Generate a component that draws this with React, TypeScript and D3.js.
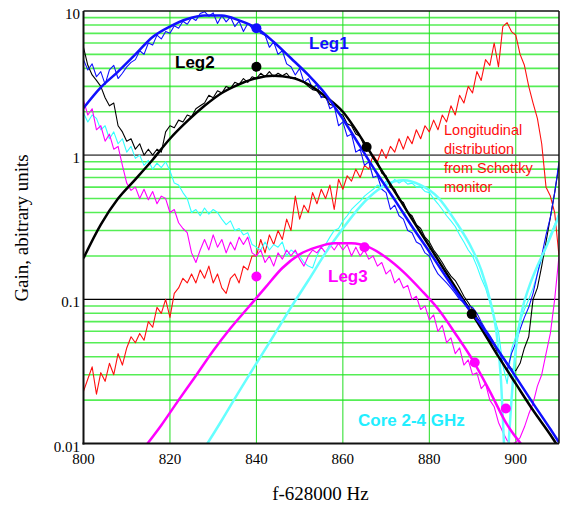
import React from "react";
import * as d3 from "d3";

const W = 561;
const H = 508;
const plot = { left: 83.5, right: 559, top: 11, bottom: 443.5 };

const xDomain: [number, number] = [800, 910];
const yDomain: [number, number] = [0.01, 10];
const xTicks = [800, 820, 840, 860, 880, 900];
const xTickLabels = ["800", "820", "840", "860", "880", "900"];
const yTicks = [0.01, 0.1, 1, 10];
const yTickLabels = ["0.01", "0.1", "1", "10"];
const minorDecades = [0.01, 0.1, 1];
const minorMultipliers = [2, 3, 4, 5, 6, 7, 8, 9];

// noisy measured series: sampled every 1 Hz starting at 800
const sampleStartHz = 800;
const sampleStepHz = 1;

const leg1Data = [
  4.6, 3.9, 4.3, 3.5, 3.8, 3.1, 3.9, 4.2, 3.4, 3.7,
  4.1, 4.4, 4.6, 5.3, 5.0, 6.0, 5.8, 6.8, 6.4, 7.2,
  7.0, 7.9, 7.6, 8.5, 8.1, 9.0, 8.6, 9.6, 9.9, 9.2,
  9.7, 8.2, 9.3, 8.4, 9.1, 7.8, 8.5, 7.2, 8.2, 7.6,
  7.8, 7.0, 6.8, 5.6, 6.1, 5.0, 5.3, 4.3, 4.1, 3.6,
  4.0, 3.2, 3.4, 2.9, 3.1, 2.5, 2.6, 2.1, 2.2, 1.6,
  1.7, 1.35, 1.4, 1.05, 1.1, 0.85, 0.9, 0.7, 0.72, 0.58,
  0.55, 0.42, 0.45, 0.38, 0.36, 0.3, 0.29, 0.25, 0.24, 0.21,
  0.2, 0.17, 0.15, 0.14, 0.13, 0.12, 0.11, 0.1, 0.095, 0.09,
  0.088, 0.08, 0.07, 0.062, 0.056, 0.05, 0.044, 0.036, 0.032, 0.042,
  0.05, 0.062, 0.075, 0.088, 0.11, 0.15, 0.2, 0.28, 0.37, 0.55,
  0.9,
];

const leg2Data = [
  5.6, 4.2, 3.6, 3.3, 3.0, 2.5, 2.2, 2.3, 1.6, 1.45,
  1.25, 1.3, 1.1, 1.2, 1.0, 1.1, 1.0, 1.1, 1.05, 1.45,
  1.6, 1.55, 1.75, 1.7, 1.9, 1.85, 2.1, 2.2, 2.3, 2.6,
  2.5, 2.8, 2.7, 3.0, 2.9, 3.2, 3.1, 3.4, 3.2, 3.5,
  3.4, 3.7, 3.5, 3.8, 3.5, 3.7, 3.55, 3.7, 3.4, 3.45,
  3.3, 3.2, 3.0, 2.85, 2.8, 2.55, 2.5, 2.25, 2.2, 1.95,
  1.9, 1.65, 1.6, 1.4, 1.35, 1.15, 1.1, 0.95, 0.9, 0.75,
  0.72, 0.6, 0.58, 0.49, 0.47, 0.4, 0.38, 0.33, 0.31, 0.27,
  0.25, 0.22, 0.2, 0.18, 0.16, 0.145, 0.135, 0.12, 0.105, 0.095,
  0.085, 0.075, 0.068, 0.06, 0.052, 0.048, 0.042, 0.04, 0.036, 0.033,
  0.032, 0.036, 0.046, 0.055, 0.1, 0.12, 0.17, 0.25, 0.37, 0.55,
  0.85,
];

const leg3Data = [
  2.4, 1.9, 2.1, 1.5, 1.6, 1.25, 1.4, 1.1, 1.15, 0.85,
  0.64, 0.57, 0.6, 0.5, 0.58, 0.49, 0.56, 0.46, 0.52, 0.5,
  0.4, 0.42, 0.34, 0.31, 0.29, 0.21, 0.18, 0.22, 0.26, 0.22,
  0.28, 0.23, 0.26, 0.21, 0.25, 0.22, 0.27, 0.24, 0.27, 0.21,
  0.2, 0.22, 0.18, 0.2, 0.17, 0.21, 0.19, 0.22, 0.2, 0.22,
  0.19, 0.17, 0.2, 0.22, 0.21, 0.23, 0.21, 0.24, 0.22, 0.245,
  0.22, 0.24, 0.2, 0.23, 0.2, 0.22, 0.19, 0.2, 0.17, 0.18,
  0.15, 0.16, 0.13, 0.14, 0.12, 0.125, 0.1, 0.105, 0.085, 0.09,
  0.072, 0.078, 0.06, 0.066, 0.05, 0.054, 0.042, 0.046, 0.035, 0.038,
  0.03, 0.031, 0.024, 0.026, 0.02, 0.018, 0.014, 0.012, 0.0105, 0.0098,
  0.0102, 0.011, 0.013, 0.016, 0.019, 0.025, 0.03, 0.042, 0.058, 0.1,
  0.2,
];

const coreData = [
  1.96, 1.7, 1.9, 1.8, 1.5, 1.6, 1.3, 1.45, 1.2, 1.3,
  1.05, 1.15, 0.95, 1.0, 0.85, 0.92, 0.8, 0.88, 0.82, 0.9,
  0.78, 0.64, 0.62, 0.55, 0.5, 0.4, 0.42, 0.38, 0.43, 0.39,
  0.42, 0.4, 0.36, 0.33, 0.35, 0.3, 0.31, 0.28, 0.29, 0.24,
  0.23, 0.22, 0.25, 0.22, 0.24, 0.23, 0.25, 0.2, 0.22, 0.21,
  0.2, 0.18, 0.17, 0.165, 0.2, 0.23, 0.24, 0.27, 0.3, 0.31,
  0.35, 0.38, 0.42, 0.45, 0.48, 0.52, 0.55, 0.58, 0.62, 0.6,
  0.66, 0.62, 0.68, 0.64, 0.67, 0.63, 0.64, 0.6, 0.6, 0.56,
  0.55, 0.5, 0.46, 0.42, 0.38, 0.35, 0.32, 0.28, 0.25, 0.22,
  0.2, 0.17, 0.14, 0.12, 0.095, 0.075, 0.06, 0.035, 0.026, 0.045,
  0.055, 0.07, 0.085, 0.1, 0.12, 0.15, 0.19, 0.23, 0.28, 0.33,
  0.4,
];

const schottkyData = [
  0.023, 0.028, 0.034, 0.022, 0.031, 0.027, 0.036, 0.03, 0.042, 0.035,
  0.046, 0.055, 0.05, 0.058, 0.052, 0.07, 0.064, 0.088, 0.08, 0.1,
  0.075, 0.11, 0.12, 0.14, 0.13, 0.15, 0.13, 0.16, 0.14, 0.17,
  0.13, 0.15, 0.12, 0.11, 0.14, 0.15, 0.13, 0.17, 0.16, 0.2,
  0.2, 0.26, 0.21, 0.28, 0.24, 0.3, 0.26, 0.36, 0.3, 0.52,
  0.36, 0.45, 0.4, 0.55, 0.46, 0.58, 0.5, 0.62, 0.42, 0.68,
  0.58, 0.72, 0.66, 0.8, 0.7, 0.85, 0.8, 1.0, 0.9, 1.1,
  0.95, 1.15, 1.05, 1.3, 1.1, 1.35, 1.2, 1.5, 1.3, 1.6,
  1.45, 1.75, 1.5, 1.9, 1.7, 2.2, 1.9, 2.6, 2.3, 3.0,
  2.7, 3.8, 3.3, 4.6, 4.2, 6.0, 4.1, 7.8, 8.3, 7.2,
  6.8, 5.0, 4.2, 3.0, 2.3, 1.8, 1.2, 0.6, 0.52, 0.4,
  0.2,
];

// smooth fitted curves: frequency / gain pairs
const leg1FitHz = [800, 804, 808, 812, 816, 820, 824, 828, 832, 836, 840, 844, 848, 852, 856, 860, 864, 868, 872, 876, 880, 884, 888, 892, 896, 900, 904, 908, 910];
const leg1FitGain = [2.12, 2.95, 3.8, 5.0, 6.6, 7.8, 8.8, 9.3, 9.3, 8.6, 7.6, 6.1, 4.7, 3.6, 2.65, 1.78, 1.15, 0.74, 0.49, 0.32, 0.214, 0.141, 0.095, 0.066, 0.044, 0.029, 0.019, 0.0126, 0.0102];

const leg2FitHz = [800, 804, 808, 812, 816, 820, 824, 828, 832, 836, 840, 844, 848, 852, 856, 860, 864, 868, 872, 876, 880, 884, 888, 892, 896, 900, 904, 908, 910];
const leg2FitGain = [0.193, 0.33, 0.5, 0.68, 0.93, 1.3, 1.72, 2.2, 2.7, 3.1, 3.42, 3.55, 3.45, 3.1, 2.55, 2.0, 1.35, 0.87, 0.56, 0.36, 0.234, 0.151, 0.098, 0.063, 0.04, 0.026, 0.017, 0.0115, 0.0093];

const leg3FitHz = [814, 818, 822, 826, 830, 834, 838, 842, 846, 850, 854, 858, 862, 866, 870, 874, 878, 882, 886, 890, 894, 898, 902];
const leg3FitGain = [0.0093, 0.0134, 0.02, 0.0295, 0.044, 0.063, 0.087, 0.12, 0.165, 0.205, 0.23, 0.245, 0.245, 0.23, 0.195, 0.155, 0.117, 0.086, 0.058, 0.038, 0.023, 0.0135, 0.0093];

const coreFitLeftHz = [828, 832, 836, 840, 844, 848, 852, 856, 860, 864, 868, 872, 874, 878, 882, 886, 890, 892, 894, 895.5, 896.5, 897.3];
const coreFitLeftGain = [0.0093, 0.0145, 0.023, 0.036, 0.056, 0.088, 0.135, 0.21, 0.31, 0.44, 0.57, 0.66, 0.67, 0.62, 0.51, 0.35, 0.22, 0.16, 0.1, 0.06, 0.03, 0.0095];
const coreFitRightHz = [898.3, 899, 900, 901.5, 903, 905, 907, 909, 910];
const coreFitRightGain = [0.0095, 0.02, 0.045, 0.085, 0.12, 0.17, 0.23, 0.32, 0.38];

// markers
const leg1DotHz = [840];
const leg1DotGain = [7.6];
const leg2DotHz = [840, 865.5, 889.8];
const leg2DotGain = [4.1, 1.14, 0.079];
const leg3DotHz = [840, 865, 890.5, 897.7];
const leg3DotGain = [0.144, 0.23, 0.0365, 0.0175];

const schottkyLines = ["Longitudinal", "distribution", "from Schottky", "monitor"];

const SERIF = "'Liberation Serif', 'Times New Roman', serif";
const SANS = "'Liberation Sans', Arial, sans-serif";

export default function App() {
  const x = d3.scaleLinear().domain(xDomain).range([plot.left, plot.right]);
  const y = d3.scaleLog().domain(yDomain).range([plot.bottom, plot.top]);

  const noisy = (vals: number[]) =>
    d3
      .line<number>()
      .x((_, i) => x(sampleStartHz + i * sampleStepHz))
      .y((v) => y(v))(vals) || "";

  const smooth = (xs: number[], vs: number[]) =>
    d3
      .line<number>()
      .x((_, i) => x(xs[i]))
      .y((v) => y(v))
      .curve(d3.curveMonotoneX)(vs) || "";

  const minorVals: number[] = [];
  minorDecades.forEach((d) => minorMultipliers.forEach((m) => minorVals.push(d * m)));

  const blue = "#1010ff";
  const cyan = "#33ffff";
  const cyanFit = "#66ffff";
  const magenta = "#ff00ff";
  const red = "#ff1010";

  return (
    <svg width={W} height={H} style={{ display: "block", position: "absolute", left: 0, top: 0, background: "#fff" }}>
      <defs>
        <clipPath id="plotClip">
          <rect x={plot.left} y={plot.top} width={plot.right - plot.left} height={plot.bottom - plot.top} />
        </clipPath>
      </defs>
      <rect x={0} y={0} width={W} height={H} fill="#fff" />

      {/* grid */}
      {minorVals.map((v) => (
        <line key={"h" + v} x1={plot.left} x2={plot.right} y1={y(v)} y2={y(v)} stroke="#55ee55" strokeWidth={1.6} />
      ))}
      {xTicks.slice(1).map((t) => (
        <line key={"v" + t} x1={x(t)} x2={x(t)} y1={plot.top} y2={plot.bottom} stroke="#22dd22" strokeWidth={1} />
      ))}
      <line x1={plot.left} x2={plot.right} y1={y(1)} y2={y(1)} stroke="#666" strokeWidth={1.8} />
      <line x1={plot.left} x2={plot.right} y1={y(0.1)} y2={y(0.1)} stroke="#000" strokeWidth={1.2} />

      {/* data */}
      <g clipPath="url(#plotClip)" fill="none" strokeLinejoin="round">
        <path d={noisy(schottkyData)} stroke={red} strokeWidth={1.1} />
        <path d={noisy(coreData)} stroke={cyan} strokeWidth={1.1} />
        <path d={noisy(leg3Data)} stroke={magenta} strokeWidth={1.1} />
        <path d={noisy(leg2Data)} stroke="#000" strokeWidth={1.1} />
        <path d={noisy(leg1Data)} stroke={blue} strokeWidth={1.1} />
        <path d={smooth(coreFitLeftHz, coreFitLeftGain)} stroke={cyanFit} strokeWidth={2.5} />
        <path d={smooth(coreFitRightHz, coreFitRightGain)} stroke={cyanFit} strokeWidth={2.5} />
        <path d={smooth(leg3FitHz, leg3FitGain)} stroke={magenta} strokeWidth={2.5} />
        <path d={smooth(leg2FitHz, leg2FitGain)} stroke="#000" strokeWidth={2.5} />
        <path d={smooth(leg1FitHz, leg1FitGain)} stroke={blue} strokeWidth={2.5} />
        {leg1DotHz.map((h, i) => (
          <circle key={"b" + i} cx={x(h)} cy={y(leg1DotGain[i])} r={5} fill={blue} />
        ))}
        {leg2DotHz.map((h, i) => (
          <circle key={"k" + i} cx={x(h)} cy={y(leg2DotGain[i])} r={5} fill="#000" />
        ))}
        {leg3DotHz.map((h, i) => (
          <circle key={"m" + i} cx={x(h)} cy={y(leg3DotGain[i])} r={5} fill={magenta} />
        ))}
      </g>

      {/* frame */}
      <line x1={plot.left} x2={plot.right} y1={plot.top} y2={plot.top} stroke="#111" strokeWidth={1.5} />
      <line x1={plot.right} x2={plot.right} y1={plot.top} y2={plot.bottom} stroke="#111" strokeWidth={1.5} />
      <line x1={plot.left} x2={plot.left} y1={plot.top} y2={plot.bottom + 1} stroke="#111" strokeWidth={2} />
      <line x1={plot.left - 1} x2={plot.right} y1={plot.bottom} y2={plot.bottom} stroke="#111" strokeWidth={2} />

      {/* tick labels */}
      {yTicks.map((t, i) => (
        <text key={"yt" + t} x={80} y={y(t) + 8} textAnchor="end" fontFamily={SERIF} fontSize={15} fill="#000">
          {yTickLabels[i]}
        </text>
      ))}
      {xTicks.map((t, i) => (
        <text key={"xt" + t} x={x(t)} y={464} textAnchor="middle" fontFamily={SERIF} fontSize={15} fill="#000">
          {xTickLabels[i]}
        </text>
      ))}

      {/* axis titles */}
      <text x={320.5} y={500} textAnchor="middle" fontFamily={SERIF} fontSize={19} fill="#000">
        f-628000 Hz
      </text>
      <text transform="translate(28,228) rotate(-90)" textAnchor="middle" fontFamily={SERIF} fontSize={19} fill="#000">
        Gain, abitrary units
      </text>

      {/* annotations */}
      <text x={309} y={49} fontFamily={SANS} fontWeight="bold" fontSize={17} fill={blue}>Leg1</text>
      <text x={175} y={68} fontFamily={SANS} fontWeight="bold" fontSize={17} fill="#000">Leg2</text>
      <text x={328} y={282} fontFamily={SANS} fontWeight="bold" fontSize={17} fill={magenta}>Leg3</text>
      <text x={358} y={426} fontFamily={SANS} fontWeight="bold" fontSize={17} fill="#22eeff">Core 2-4 GHz</text>
      {schottkyLines.map((s, i) => (
        <text key={s} x={444} y={135 + i * 19} fontFamily={SANS} fontSize={14.5} fill={red}>
          {s}
        </text>
      ))}
    </svg>
  );
}
